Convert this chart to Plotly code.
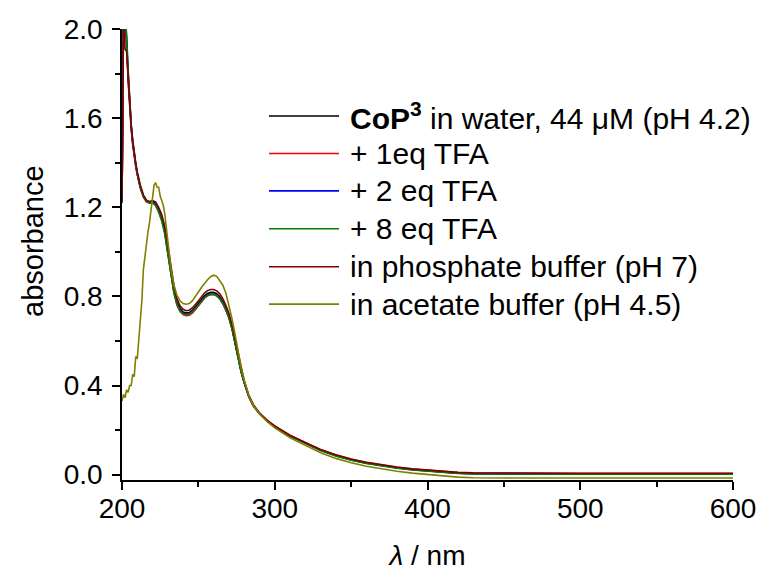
import plotly.graph_objects as go

# ---------------- data ----------------
wl = [200, 201, 202, 203, 204, 205, 206, 207, 208, 209, 210,
      212, 214, 216, 218, 220, 222, 224, 226, 228, 230, 232, 234, 236, 238, 240,
      242, 244, 246, 248, 250, 252, 254, 256, 258, 260, 262, 264, 266, 268, 270,
      272, 274, 276, 278, 280,
      283, 286, 290, 295, 300,
      310, 320, 330, 340, 350, 360, 370, 380, 390, 400, 410, 420, 430,
      450, 500, 550, 600]

water = [1.22, 2.06, 2.03, 1.94, 1.78, 1.65, 1.56, 1.49, 1.43, 1.39, 1.35,
         1.29, 1.25, 1.228, 1.222, 1.226, 1.216, 1.19, 1.155, 1.10, 1.01, 0.91, 0.83, 0.775, 0.745, 0.73,
         0.725, 0.727, 0.737, 0.752, 0.77, 0.788, 0.803, 0.813, 0.818, 0.818, 0.812, 0.798, 0.775, 0.745, 0.71,
         0.66, 0.595, 0.525, 0.465, 0.415,
         0.352, 0.31, 0.275, 0.242, 0.216,
         0.174, 0.141, 0.110, 0.086, 0.067, 0.052, 0.040, 0.031, 0.023, 0.017, 0.011, 0.007, 0.005,
         0.004, 0.004, 0.004, 0.004]

tfa1 = [1.23, 2.05, 2.02, 1.93, 1.77, 1.64, 1.55, 1.48, 1.42, 1.38, 1.345,
        1.285, 1.245, 1.224, 1.218, 1.222, 1.212, 1.185, 1.148, 1.09, 0.995, 0.895, 0.815, 0.76, 0.732, 0.718,
        0.713, 0.715, 0.725, 0.74, 0.758, 0.776, 0.792, 0.803, 0.808, 0.808, 0.802, 0.789, 0.767, 0.738, 0.704,
        0.655, 0.59, 0.52, 0.461, 0.412,
        0.35, 0.309, 0.274, 0.242, 0.217,
        0.176, 0.143, 0.112, 0.088, 0.069, 0.054, 0.042, 0.033, 0.025, 0.019, 0.013, 0.009, 0.007,
        0.006, 0.005, 0.005, 0.005]

tfa2 = [1.22, 2.07, 2.05, 1.96, 1.80, 1.66, 1.57, 1.49, 1.43, 1.39, 1.35,
        1.29, 1.25, 1.226, 1.22, 1.222, 1.21, 1.183, 1.145, 1.088, 0.998, 0.9, 0.822, 0.768, 0.738, 0.724,
        0.72, 0.722, 0.732, 0.747, 0.764, 0.781, 0.796, 0.806, 0.811, 0.811, 0.805, 0.792, 0.77, 0.741, 0.706,
        0.657, 0.592, 0.522, 0.462, 0.413,
        0.351, 0.309, 0.274, 0.241, 0.215,
        0.173, 0.14, 0.109, 0.085, 0.066, 0.051, 0.039, 0.030, 0.022, 0.016, 0.010, 0.006, 0.004,
        0.003, 0.003, 0.003, 0.003]

tfa8 = [1.22, 2.08, 2.06, 1.98, 1.82, 1.67, 1.57, 1.50, 1.44, 1.39, 1.35,
        1.29, 1.25, 1.226, 1.219, 1.22, 1.207, 1.178, 1.138, 1.08, 0.99, 0.893, 0.816, 0.764, 0.735, 0.722,
        0.718, 0.72, 0.73, 0.745, 0.762, 0.779, 0.794, 0.804, 0.809, 0.809, 0.803, 0.79, 0.768, 0.739, 0.704,
        0.655, 0.59, 0.52, 0.46, 0.412,
        0.35, 0.308, 0.273, 0.24, 0.214,
        0.172, 0.139, 0.108, 0.084, 0.065, 0.05, 0.038, 0.029, 0.021, 0.015, 0.009, 0.005, 0.003,
        0.002, 0.002, 0.002, 0.002]

phosphate = [1.23, 2.03, 1.91, 1.90, 1.80, 1.66, 1.57, 1.50, 1.44, 1.40, 1.36,
             1.30, 1.256, 1.232, 1.226, 1.23, 1.224, 1.2, 1.168, 1.115, 1.03, 0.93, 0.848, 0.79, 0.758, 0.742,
             0.736, 0.738, 0.748, 0.763, 0.781, 0.799, 0.815, 0.826, 0.831, 0.831, 0.825, 0.812, 0.79, 0.76, 0.724,
             0.675, 0.61, 0.538, 0.474, 0.422,
             0.357, 0.314, 0.278, 0.245, 0.219,
             0.177, 0.144, 0.113, 0.089, 0.07, 0.055, 0.043, 0.034, 0.026, 0.020, 0.014, 0.010, 0.008,
             0.007, 0.006, 0.006, 0.006]

wl_ac = [200, 201, 202, 203, 204, 205, 206, 207, 208, 209, 210, 211, 212, 213, 214, 215,
         216, 217, 218, 219, 220, 221, 222, 223, 224, 225, 226, 227, 228, 229, 230,
         232, 234, 236, 238, 240, 242, 244, 246, 248, 250, 252, 254, 256, 258, 260,
         262, 264, 266, 268, 270, 272, 274, 276, 278, 280, 283, 286, 290, 295, 300,
         310, 320, 330, 340, 350, 360, 370, 380, 390, 400, 410, 420, 430, 440, 450,
         500, 550, 600]

acetate = [0.33, 0.36, 0.345, 0.38, 0.37, 0.40, 0.40, 0.45, 0.44, 0.53, 0.52, 0.60, 0.66, 0.78, 0.92, 0.98,
           1.04, 1.09, 1.13, 1.19, 1.25, 1.30, 1.31, 1.29, 1.29, 1.25, 1.23, 1.21, 1.17, 1.11, 1.05,
           0.93, 0.85, 0.805, 0.78, 0.768, 0.765, 0.768, 0.78, 0.798, 0.82, 0.84, 0.858, 0.875, 0.888, 0.895,
           0.89, 0.87, 0.85, 0.815, 0.76, 0.70, 0.63, 0.55, 0.48, 0.425, 0.355, 0.31, 0.273, 0.238, 0.21,
           0.165, 0.13, 0.098, 0.073, 0.053, 0.038, 0.025, 0.015, 0.007, 0.001, -0.006, -0.011, -0.014, -0.015, -0.015,
           -0.015, -0.015, -0.015]

labels = ["<b>CoP<sup>3</sup></b> in water, 44 \u03bcM (pH 4.2)",
          "+ 1eq TFA",
          "+ 2 eq TFA",
          "+ 8 eq TFA",
          "in phosphate buffer (pH 7)",
          "in acetate buffer (pH 4.5)"]
colors = ["#000000", "#FF0000", "#0000FF", "#008000", "#800000", "#808000"]

x_range = [200, 600]
y_range = [-0.024, 2.0]

FONT = "Liberation Sans, Arial, sans-serif"

series = [(wl, water), (wl, tfa1), (wl, tfa2), (wl, tfa8), (wl, phosphate), (wl_ac, acetate)]

fig = go.Figure()
for (xs, ys), name, col in zip(series, labels, colors):
    fig.add_trace(go.Scatter(x=xs, y=ys, mode="lines", name=name,
                             line=dict(color=col, width=1.6), showlegend=False))

# manual legend (long line samples as in the reference)
leg_y = [0.807, 0.724, 0.641, 0.557, 0.473, 0.390]
for yy, name, col in zip(leg_y, labels, colors):
    fig.add_shape(type="line", xref="paper", yref="paper",
                  x0=0.2406, x1=0.3552, y0=yy, y1=yy,
                  line=dict(color=col, width=1.6))
    fig.add_annotation(xref="paper", yref="paper", x=0.370, y=yy,
                       xanchor="left", yanchor="middle", text=name, showarrow=False,
                       font=dict(family=FONT, size=30, color="black"))

# y-axis title (placed as in the reference, slightly above the axis centre)
fig.add_annotation(xref="paper", yref="paper", x=-0.1457, y=0.53,
                   xanchor="center", yanchor="middle", textangle=-90,
                   text="absorbance", showarrow=False,
                   font=dict(family=FONT, size=29, color="black"))

axis_common = dict(showline=True, linecolor="black", linewidth=1.5,
                   ticks="outside", ticklen=8, tickwidth=1.5, tickcolor="black",
                   showgrid=False, zeroline=False, mirror=False, automargin=False,
                   tickfont=dict(family=FONT, size=28, color="black"))

fig.update_layout(
    width=762, height=574,
    margin=dict(l=122, r=29, t=29, b=94),
    paper_bgcolor="white", plot_bgcolor="white",
    xaxis=dict(range=x_range, dtick=100, tick0=200, ticklabelstandoff=-5,
               minor=dict(ticks="outside", dtick=50, ticklen=5, tickwidth=1.5, tickcolor="black"),
               title=dict(text="<i>\u03bb</i> / nm", font=dict(family=FONT, size=28, color="black"),
                          standoff=22),
               **axis_common),
    yaxis=dict(range=y_range, dtick=0.4, tick0=0, tickformat=".1f", ticklabelstandoff=4,
               minor=dict(ticks="outside", dtick=0.2, ticklen=5, tickwidth=1.5, tickcolor="black"),
               **axis_common),
)

fig.write_html("out.html")
